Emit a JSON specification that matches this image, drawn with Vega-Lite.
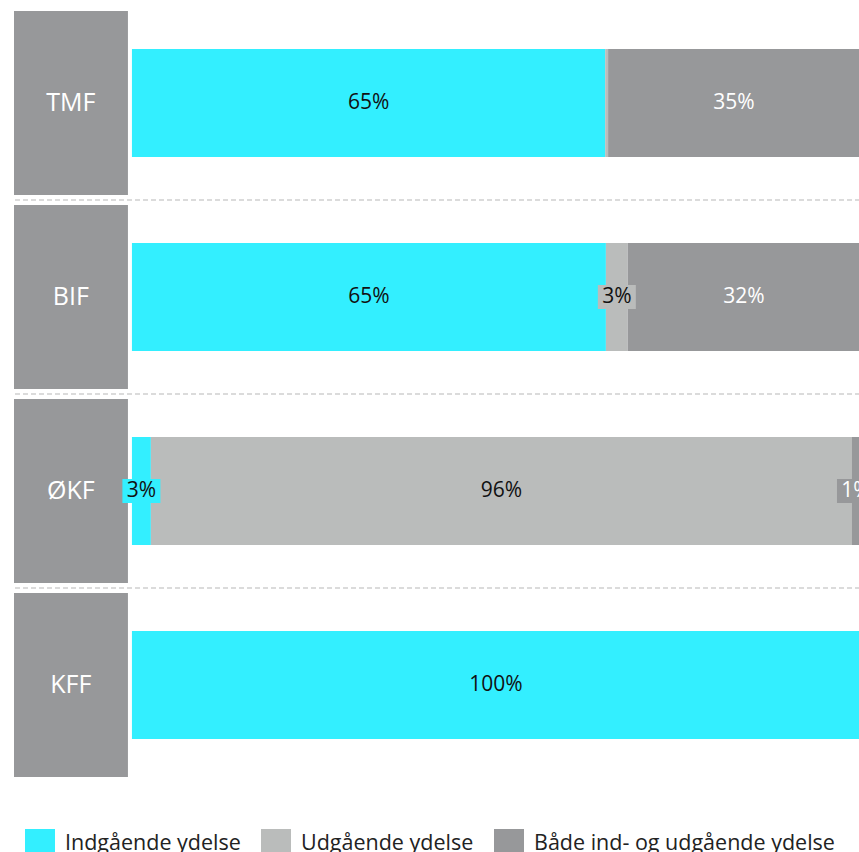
{
  "$schema": "https://vega.github.io/schema/vega-lite/v6.json",
  "width": 846,
  "height": 776,
  "padding": {"left": 13, "top": 6, "right": 0, "bottom": 0},
  "autosize": {"type": "pad"},
  "background": "white",
  "config": {"view": {"stroke": null}, "font": "Open Sans"},
  "datasets": {
    "segments": [
      {"group": "TMF", "cat": "Indgående ydelse", "idx": 1, "value": 0.650},
      {"group": "TMF", "cat": "Udgående ydelse", "idx": 2, "value": 0.004},
      {"group": "TMF", "cat": "Både ind- og udgående ydelse", "idx": 3, "value": 0.346},
      {"group": "BIF", "cat": "Indgående ydelse", "idx": 1, "value": 0.651},
      {"group": "BIF", "cat": "Udgående ydelse", "idx": 2, "value": 0.030},
      {"group": "BIF", "cat": "Både ind- og udgående ydelse", "idx": 3, "value": 0.319},
      {"group": "ØKF", "cat": "Indgående ydelse", "idx": 1, "value": 0.026},
      {"group": "ØKF", "cat": "Udgående ydelse", "idx": 2, "value": 0.963},
      {"group": "ØKF", "cat": "Både ind- og udgående ydelse", "idx": 3, "value": 0.011},
      {"group": "KFF", "cat": "Indgående ydelse", "idx": 1, "value": 1.0},
      {"group": "KFF", "cat": "Udgående ydelse", "idx": 2, "value": 0.0},
      {"group": "KFF", "cat": "Både ind- og udgående ydelse", "idx": 3, "value": 0.0}
    ],
    "groups": [
      {"group": "TMF", "sep": true},
      {"group": "BIF", "sep": true},
      {"group": "ØKF", "sep": true},
      {"group": "KFF", "sep": false}
    ]
  },
  "encoding": {
    "y": {
      "field": "group",
      "type": "nominal",
      "sort": ["TMF", "BIF", "ØKF", "KFF"],
      "scale": {"paddingInner": 0, "paddingOuter": 0},
      "axis": null
    }
  },
  "layer": [
    {
      "data": {"name": "groups"},
      "transform": [{"filter": "datum.sep"}],
      "mark": {"type": "rule", "strokeDash": [5, 3], "color": "#CFCFCF", "strokeWidth": 1.5},
      "encoding": {
        "y": {"field": "group", "type": "nominal", "sort": ["TMF", "BIF", "ØKF", "KFF"], "bandPosition": 1}
      }
    },
    {
      "data": {"name": "groups"},
      "mark": {"type": "bar", "color": "#97989A", "height": {"band": 0.948}},
      "encoding": {
        "x": {"datum": -0.162, "type": "quantitative", "scale": {"domain": [-0.162, 1.0], "nice": false, "zero": false}, "axis": null},
        "x2": {"datum": -0.0055}
      }
    },
    {
      "data": {"name": "groups"},
      "mark": {"type": "text", "color": "white", "fontSize": 25, "align": "center", "baseline": "middle"},
      "encoding": {
        "x": {"datum": -0.084, "type": "quantitative"},
        "text": {"field": "group"}
      }
    },
    {
      "data": {"name": "segments"},
      "transform": [
        {"stack": "value", "groupby": ["group"], "sort": [{"field": "idx", "order": "ascending"}], "as": ["x0", "x1"]}
      ],
      "mark": {"type": "bar", "height": {"band": 0.557}},
      "encoding": {
        "x": {"field": "x0", "type": "quantitative"},
        "x2": {"field": "x1"},
        "color": {
          "field": "cat",
          "type": "nominal",
          "scale": {
            "domain": ["Indgående ydelse", "Udgående ydelse", "Både ind- og udgående ydelse"],
            "range": ["#33EFFF", "#BABCBB", "#97989A"]
          },
          "legend": {
            "orient": "none",
            "legendX": 11,
            "legendY": 823,
            "direction": "horizontal",
            "title": null,
            "symbolType": "square",
            "symbolSize": 900,
            "symbolStrokeWidth": 0,
            "symbolOpacity": 1,
            "labelFontSize": 21.5,
            "labelOffset": 10,
            "columnPadding": 20,
            "labelColor": "#222222",
            "labelLimit": 400,
            "padding": 0
          }
        }
      }
    },
    {
      "data": {"name": "segments"},
      "transform": [
        {"stack": "value", "groupby": ["group"], "sort": [{"field": "idx", "order": "ascending"}], "as": ["x0", "x1"]},
        {"filter": "datum.value >= 0.01 && datum.value < 0.1"},
        {"calculate": "(datum.x0 + datum.x1) / 2", "as": "mid"}
      ],
      "mark": {"type": "tick", "thickness": 38, "size": 24, "opacity": 1},
      "encoding": {
        "x": {"field": "mid", "type": "quantitative"},
        "fill": {
          "field": "cat",
          "type": "nominal",
          "scale": {
            "domain": ["Indgående ydelse", "Udgående ydelse", "Både ind- og udgående ydelse"],
            "range": ["#33EFFF", "#BABCBB", "#97989A"]
          },
          "legend": null
        }
      }
    },
    {
      "data": {"name": "segments"},
      "transform": [
        {"stack": "value", "groupby": ["group"], "sort": [{"field": "idx", "order": "ascending"}], "as": ["x0", "x1"]},
        {"filter": "datum.value >= 0.01"},
        {"calculate": "(datum.x0 + datum.x1) / 2", "as": "mid"}
      ],
      "mark": {"type": "text", "fontSize": 21, "align": "center", "baseline": "middle"},
      "encoding": {
        "x": {"field": "mid", "type": "quantitative"},
        "text": {"field": "value", "type": "quantitative", "format": ".0%"},
        "color": {
          "condition": {"test": "datum.cat === 'Både ind- og udgående ydelse'", "value": "#FFFFFF"},
          "value": "#111111"
        }
      }
    }
  ]
}
